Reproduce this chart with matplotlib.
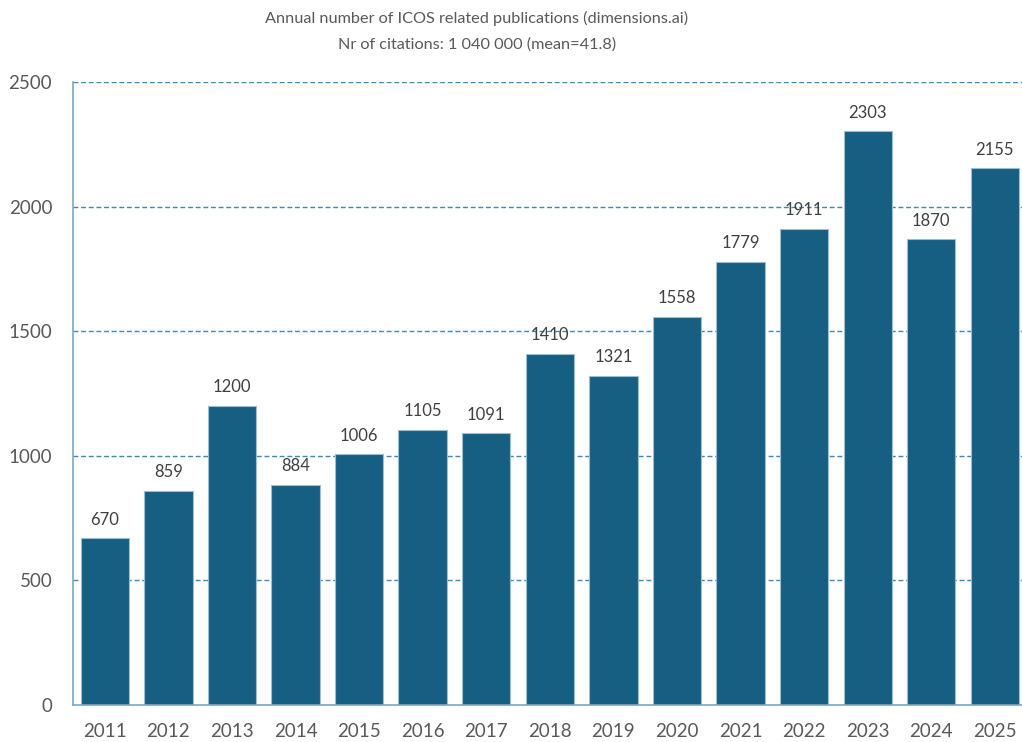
import matplotlib
matplotlib.use("Agg")
import matplotlib.pyplot as plt

years = ["2011", "2012", "2013", "2014", "2015", "2016", "2017", "2018",
         "2019", "2020", "2021", "2022", "2023", "2024", "2025"]
counts = [670, 859, 1200, 884, 1006, 1105, 1091, 1410, 1321, 1558,
          1779, 1911, 2303, 1870, 2155]
yticks = [0, 500, 1000, 1500, 2000, 2500]
title1 = "Annual number of ICOS related publications (dimensions.ai)"
title2 = "Nr of citations: 1 040 000 (mean=41.8)"

plt.rcParams['font.family'] = ['Lato', 'DejaVu Sans']
W, H = 1022, 742
fig = plt.figure(figsize=(W / 100, H / 100), dpi=100)
left, right, top, bottom = 73, 1026.6, 82, 705
ax = fig.add_axes([left / W, 1 - bottom / H, (right - left) / W, (bottom - top) / H])

x = list(range(len(years)))
bars = ax.bar(x, counts, width=0.76, color="#175F82", edgecolor="#9DBDD0",
              linewidth=0.8, zorder=3)
for xi, v in zip(x, counts):
    ax.text(xi, v + 42, str(v), ha="center", va="bottom", fontsize=12,
            color="#404040")

ax.set_xlim(-0.5, len(years) - 0.5)
ax.set_ylim(0, 2500)
ax.set_yticks(yticks)
ax.set_xticks(x)
ax.set_xticklabels(years)
ax.tick_params(axis="both", length=0, labelsize=13.5, colors="#595959")
ax.tick_params(axis="x", pad=13)
ax.tick_params(axis="y", pad=15)
for t in yticks[1:]:
    ax.axhline(t, color="#4586AE", linestyle=(0, (3.5, 2)), linewidth=1.0, zorder=1)
for s in ["top", "right"]:
    ax.spines[s].set_visible(False)
for s in ["left", "bottom"]:
    ax.spines[s].set_color("#7FA5BE")
    ax.spines[s].set_linewidth(1.2)
    ax.spines[s].set_zorder(4)

fig.text(477 / W, 1 - 18 / H, title1, ha="center", va="center", fontsize=11.7, color="#595959")
fig.text(477 / W, 1 - 45 / H, title2, ha="center", va="center", fontsize=11.7, color="#595959")

fig.savefig("out.png", dpi=100)
